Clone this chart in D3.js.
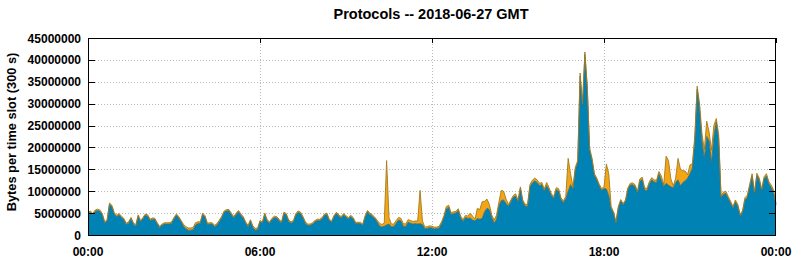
<!DOCTYPE html>
<html>
<head>
<meta charset="utf-8">
<script src="https://cdn.jsdelivr.net/npm/d3@7"></script>
<style>
body { margin: 0; background: #fff; }
text { font-family: 'Liberation Sans', Arial, sans-serif; font-weight: bold; fill: #000; }
</style>
</head>
<body>
<div id="chart"></div>
<script>
// one value per 5 minute slot, in millions of bytes (00:00 .. 24:00)
let slotMinutes = 5

let blueBytes = [
4.9,5.2,4.6,5.4,5.6,5.4,4.6,2.7,3.2,7.0,6.5,4.8,
4.2,4.6,4.0,3.5,2.4,2.7,3.7,2.5,2.0,4.3,3.0,3.7,
4.5,4.3,3.3,3.6,3.5,2.5,1.7,2.2,2.5,2.5,2.5,2.7,
3.7,4.5,3.9,3.0,2.0,1.4,1.1,1.1,1.2,2.3,2.6,2.6,
4.7,4.1,2.4,2.5,2.5,1.9,2.3,3.1,4.0,5.2,5.5,5.5,
4.7,3.9,4.7,5.3,4.5,3.9,2.7,1.9,3.2,1.7,1.1,1.2,
3.0,2.7,4.7,3.2,2.7,3.5,4.0,3.9,3.3,2.7,4.9,4.6,
3.1,2.7,3.0,4.6,5.2,4.9,3.9,2.7,2.2,2.2,2.5,3.0,
3.3,3.3,3.7,4.5,4.7,3.3,2.9,4.2,4.9,4.3,3.9,4.6,
4.1,3.7,4.2,3.7,2.6,2.6,2.6,2.2,4.1,5.3,4.7,4.3,
3.8,3.0,2.1,1.8,2.0,2.3,2.5,1.9,1.9,2.7,3.4,3.2,
2.0,1.9,2.9,2.7,2.5,2.6,2.5,2.6,2.4,1.4,1.5,1.7,
1.6,1.4,1.5,1.6,2.6,4.0,6.0,6.3,4.7,4.9,5.0,5.6,
3.9,3.1,4.0,3.8,3.9,3.4,3.2,3.8,3.6,3.8,5.3,6.1,
5.8,4.0,2.7,3.6,6.6,7.9,8.0,7.2,6.6,7.5,8.6,8.9,
7.6,10.6,7.6,6.6,6.5,11.0,11.9,12.4,12.0,11.3,11.5,10.0,
11.3,10.3,9.0,8.4,10.3,10.1,8.1,7.4,8.3,10.0,11.5,10.5,
15.0,16.5,36.3,29.5,41.2,33.5,19.4,17.1,13.6,12.6,11.2,10.2,
10.6,10.5,9.0,6.0,5.0,2.8,6.2,7.8,6.9,7.7,10.4,11.4,
11.5,11.1,9.6,12.3,12.7,10.3,10.1,11.7,12.6,12.1,12.0,14.0,
12.5,11.1,11.8,11.4,11.0,10.8,12.0,12.6,11.2,12.0,12.4,13.0,
14.0,15.3,21.7,33.3,29.3,21.5,17.5,22.5,21.5,16.4,22.5,25.8,
22.0,8.5,9.3,9.5,8.4,7.3,6.1,7.6,6.6,4.3,5.2,8.0,
8.6,11.1,13.5,9.3,13.6,12.5,10.0,12.8,13.5,11.7,10.9,9.8,
6.8
]

let orangeBytes = [
0.3,0.3,0.3,0.3,0.3,0.3,0.3,0.3,0.3,0.3,0.3,0.3,
0.3,0.3,0.3,0.3,0.3,0.3,0.3,0.3,0.3,0.3,0.3,0.3,
0.3,0.3,0.3,0.3,0.3,0.3,0.3,0.3,0.3,0.3,0.3,0.3,
0.3,0.3,0.3,0.3,0.4,0.5,0.5,0.5,0.5,0.5,0.4,0.4,
0.3,0.3,0.3,0.3,0.3,0.3,0.3,0.3,0.3,0.3,0.3,0.3,
0.3,0.3,0.3,0.3,0.3,0.3,0.3,0.3,0.3,0.4,0.4,0.4,
0.3,0.3,0.3,0.3,0.3,0.3,0.3,0.3,0.3,0.3,0.3,0.3,
0.3,0.3,0.3,0.3,0.3,0.3,0.3,0.3,0.3,0.3,0.3,0.3,
0.3,0.3,0.3,0.3,0.3,0.3,0.3,0.3,0.3,0.3,0.3,0.3,
0.3,0.3,0.3,0.3,0.3,0.3,0.3,0.3,0.3,0.3,0.3,0.3,
0.3,0.4,0.6,0.6,0.7,14.7,1.5,0.6,0.6,0.6,0.6,0.6,
0.6,0.6,0.6,0.6,0.6,0.6,0.7,7.6,0.8,0.4,0.4,0.4,
0.4,0.4,0.3,0.4,0.4,0.4,0.5,0.5,0.4,0.4,0.4,0.4,
0.4,0.4,0.5,0.5,1.1,0.9,0.4,2.3,2.2,3.8,2.4,2.1,
1.2,0.6,0.7,0.9,0.9,2.3,2.0,1.0,0.4,0.5,0.4,0.5,
0.4,0.4,0.4,0.4,0.5,0.5,0.6,0.6,0.6,0.5,0.5,0.5,
0.7,0.5,0.4,0.4,0.5,0.5,0.4,0.4,0.5,7.5,2.5,0.5,
0.5,0.5,0.7,0.5,0.6,0.5,0.4,0.4,0.4,0.4,0.4,0.4,
0.4,5.7,5.0,0.5,0.3,0.2,0.3,0.3,0.3,0.3,0.4,0.4,
0.4,0.4,0.4,0.5,0.5,0.5,0.5,0.5,0.5,0.5,0.5,0.5,
1.0,0.4,6.2,5.6,1.8,0.4,1.0,4.9,3.8,2.7,2.2,0.8,
2.0,1.0,0.7,0.7,0.7,1.7,2.0,3.5,2.0,3.0,2.5,0.8,
1.0,0.5,0.5,0.5,0.4,0.4,0.4,0.4,0.4,0.4,0.4,0.5,
0.5,0.5,0.5,0.5,0.5,0.5,0.5,0.5,0.5,0.5,0.5,0.5,
0.4
]

let xTickValues = [0, 360, 720, 1080, 1440]
let xTickLabels = ['00:00', '06:00', '12:00', '18:00', '00:00']
let yTickValues = [0, 5, 10, 15, 20, 25, 30, 35, 40, 45]

let width = 794, height = 260
let plotLeft = 88, plotRight = 776, plotTop = 38, plotBottom = 235

let svg = d3.select('#chart')
.append('svg')
.attr('width', width)
.attr('height', height)
.style('display', 'block')
.style('background', '#fff')

let x = d3.scaleLinear()
.domain([0, 1440])
.range([plotLeft, plotRight])

let y = d3.scaleLinear()
.domain([0, 45])
.range([plotBottom, plotTop])

let table = blueBytes.map((v, i) => ({minute: i * slotMinutes, blue: v, orange: orangeBytes[i]}))
let layers = d3.stack().keys(['blue', 'orange'])(table)

// dotted grid
let grid = svg.append('g')
.attr('stroke', '#b8b8b8')
.attr('stroke-width', 1)
.attr('stroke-dasharray', '1,2')

grid.selectAll('.hgrid')
.data(yTickValues.filter(v => v > 0 && v < 45))
.join('line')
.attr('class', 'hgrid')
.attr('x1', plotLeft + 7)
.attr('x2', plotRight - 7)
.attr('y1', d => Math.round(y(d)) + 0.5)
.attr('y2', d => Math.round(y(d)) + 0.5)

grid.selectAll('.vgrid')
.data(xTickValues.filter(v => v > 0 && v < 1440))
.join('line')
.attr('class', 'vgrid')
.attr('x1', d => Math.round(x(d)) + 0.5)
.attr('x2', d => Math.round(x(d)) + 0.5)
.attr('y1', plotTop + 6)
.attr('y2', plotBottom)

let colors = ['#0082b4', '#f4a516']
let edgeColors = ['#3f6f72', '#a47a1c']

let area = d3.area()
.x(d => x(d.data.minute))
.y0(d => y(d[0]))
.y1(d => y(d[1]))

let topLine = d3.line()
.x(d => x(d.data.minute))
.y(d => y(d[1]))

svg.append('g')
.selectAll('path')
.data(layers)
.join('path')
.attr('d', area)
.attr('fill', (d, i) => colors[i])

svg.append('g')
.selectAll('path')
.data(layers)
.join('path')
.attr('d', topLine)
.attr('fill', 'none')
.attr('stroke', (d, i) => edgeColors[i])
.attr('stroke-width', 0.9)
.attr('stroke-linejoin', 'round')

// frame + inward ticks
let axes = svg.append('g')
.attr('stroke', '#000')
.attr('stroke-width', 1)
.attr('fill', 'none')

axes.append('rect')
.attr('x', plotLeft + 0.5)
.attr('y', plotTop + 0.5)
.attr('width', plotRight - plotLeft - 1)
.attr('height', plotBottom - plotTop)

axes.selectAll('.ytl')
.data(yTickValues)
.join('line')
.attr('class', 'ytl')
.attr('x1', plotLeft)
.attr('x2', plotLeft + 7)
.attr('y1', d => Math.round(y(d)) + 0.5)
.attr('y2', d => Math.round(y(d)) + 0.5)

axes.selectAll('.ytr')
.data(yTickValues)
.join('line')
.attr('class', 'ytr')
.attr('x1', plotRight - 7)
.attr('x2', plotRight)
.attr('y1', d => Math.round(y(d)) + 0.5)
.attr('y2', d => Math.round(y(d)) + 0.5)

axes.selectAll('.xtt')
.data(xTickValues)
.join('line')
.attr('class', 'xtt')
.attr('x1', d => Math.round(x(d)) + 0.5)
.attr('x2', d => Math.round(x(d)) + 0.5)
.attr('y1', plotTop)
.attr('y2', plotTop + 5)

// labels
svg.selectAll('.ylab')
.data(yTickValues)
.join('text')
.attr('class', 'ylab')
.attr('x', plotLeft - 7)
.attr('y', d => y(d) + 4.5)
.attr('text-anchor', 'end')
.style('font-size', '12px')
.text(d => d3.format('d')(d * 1e6))

svg.selectAll('.xlab')
.data(xTickValues)
.join('text')
.attr('class', 'xlab')
.attr('x', d => x(d))
.attr('y', 256)
.attr('text-anchor', 'middle')
.style('font-size', '12px')
.text((d, i) => xTickLabels[i])

svg.append('text')
.attr('x', 431)
.attr('y', 18.5)
.attr('text-anchor', 'middle')
.style('font-size', '14.5px')
.text('Protocols -- 2018-06-27 GMT')

svg.append('text')
.attr('transform', 'translate(15.5,132) rotate(-90)')
.attr('text-anchor', 'middle')
.style('font-size', '12.8px')
.text('Bytes per time slot (300 s)')
</script>
</body>
</html>
